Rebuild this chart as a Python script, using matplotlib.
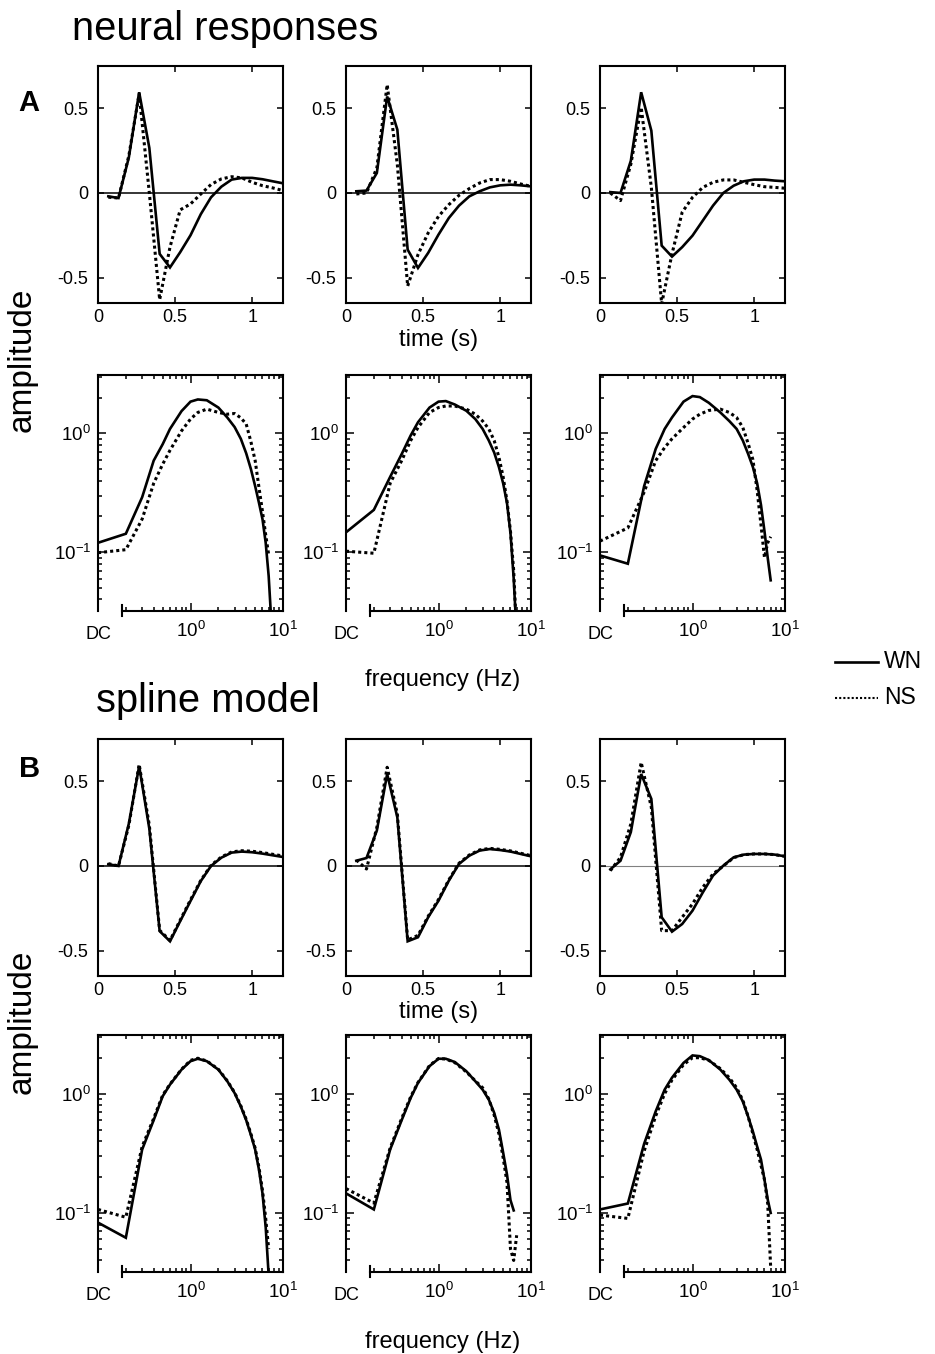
import numpy as np
import matplotlib
matplotlib.use("Agg")
import matplotlib.pyplot as plt
import matplotlib.transforms as mtrans
from matplotlib.ticker import FixedLocator, NullFormatter
from matplotlib.lines import Line2D

plt.rcParams['font.family'] = ['Liberation Sans', 'DejaVu Sans']
plt.rcParams['mathtext.fontset'] = 'custom'
plt.rcParams['mathtext.rm'] = 'Liberation Sans'
plt.rcParams['mathtext.it'] = 'Liberation Sans'

# ---------------- data ----------------
time_s = [0.067, 0.133, 0.2, 0.267, 0.333, 0.4, 0.467, 0.533, 0.6, 0.667,
          0.733, 0.8, 0.867, 0.933, 1.0, 1.067, 1.133, 1.2]

# neural responses (A), time domain
A1_wn_t = [-0.02, -0.03, 0.21, 0.595, 0.266, -0.36, -0.44, -0.35, -0.25, -0.125,
           -0.026, 0.037, 0.079, 0.089, 0.089, 0.081, 0.069, 0.057]
A1_ns_t = [-0.025, -0.03, 0.22, 0.585, 0.0, -0.63, -0.32, -0.1, -0.065, -0.006,
           0.05, 0.083, 0.096, 0.089, 0.063, 0.043, 0.03, 0.014]
A2_wn_t = [0.01, 0.014, 0.118, 0.57, 0.374, -0.335, -0.443, -0.354, -0.246, -0.148,
           -0.075, -0.02, 0.01, 0.033, 0.045, 0.049, 0.045, 0.039]
A2_ns_t = [-0.006, 0.0, 0.148, 0.64, 0.167, -0.55, -0.364, -0.236, -0.138, -0.069,
           -0.014, 0.026, 0.059, 0.079, 0.079, 0.069, 0.053, 0.039]
A3_wn_t = [0.005, 0.0, 0.19, 0.595, 0.368, -0.311, -0.376, -0.32, -0.252, -0.163,
           -0.075, 0.0, 0.043, 0.069, 0.079, 0.079, 0.073, 0.069]
A3_ns_t = [0.0, -0.045, 0.17, 0.506, 0.033, -0.655, -0.36, -0.114, -0.026, 0.033,
           0.063, 0.077, 0.077, 0.063, 0.049, 0.037, 0.033, 0.028]

# spline model (B), time domain
B1_wn_t = [0.01, 0.0, 0.25, 0.59, 0.22, -0.385, -0.445, -0.326, -0.207, -0.089,
           0.0, 0.049, 0.079, 0.085, 0.081, 0.073, 0.063, 0.053]
B1_ns_t = [0.014, 0.0, 0.24, 0.6, 0.24, -0.38, -0.44, -0.32, -0.2, -0.085,
           0.004, 0.053, 0.083, 0.09, 0.087, 0.079, 0.069, 0.059]
B2_wn_t = [0.031, 0.047, 0.209, 0.543, 0.287, -0.445, -0.421, -0.303, -0.205, -0.087,
           0.012, 0.061, 0.091, 0.1, 0.094, 0.085, 0.071, 0.057]
B2_ns_t = [0.035, -0.018, 0.228, 0.583, 0.307, -0.437, -0.41, -0.297, -0.198, -0.082,
           0.016, 0.065, 0.095, 0.104, 0.098, 0.089, 0.075, 0.061]
B3_wn_t = [-0.02, 0.031, 0.2, 0.543, 0.396, -0.303, -0.388, -0.343, -0.264, -0.156,
           -0.057, 0.002, 0.051, 0.067, 0.071, 0.071, 0.067, 0.057]
B3_ns_t = [-0.028, 0.051, 0.248, 0.612, 0.346, -0.382, -0.382, -0.303, -0.224, -0.126,
           -0.047, 0.0, 0.049, 0.067, 0.071, 0.071, 0.067, 0.057]

# frequency domain: DC value + values at freq_hz
freq_hz = [0.2, 0.3, 0.4, 0.5, 0.6, 0.8, 1.0, 1.2, 1.5, 2.0, 2.5, 3.0, 3.5,
           4.0, 4.5, 5.0, 5.5, 6.0, 6.5, 7.0, 7.5]
nan = float('nan')

A1_wn_dc, A1_wn_f = 0.12, [0.143, 0.29, 0.59, 0.81, 1.09, 1.54, 1.85, 1.93, 1.9, 1.65, 1.36,
                           1.13, 0.9, 0.68, 0.5, 0.36, 0.26, 0.19, 0.12, 0.063, 0.025]
A1_ns_dc, A1_ns_f = 0.099, [0.105, 0.19, 0.38, 0.55, 0.72, 1.05, 1.32, 1.5, 1.6, 1.5, 1.45,
                            1.47, 1.35, 1.2, 0.85, 0.59, 0.35, 0.22, 0.14, 0.095, nan]
A2_wn_dc, A2_wn_f = 0.147, [0.227, 0.43, 0.67, 0.96, 1.24, 1.65, 1.85, 1.87, 1.75, 1.55, 1.32,
                            1.09, 0.87, 0.69, 0.52, 0.38, 0.26, 0.145, 0.06, 0.02, nan]
A2_ns_dc, A2_ns_f = 0.102, [0.098, 0.38, 0.59, 0.87, 1.12, 1.5, 1.65, 1.7, 1.7, 1.6, 1.45,
                            1.27, 1.09, 0.87, 0.63, 0.43, 0.27, 0.15, 0.07, 0.02, nan]
A3_wn_dc, A3_wn_f = 0.094, [0.08, 0.36, 0.74, 1.09, 1.36, 1.85, 2.06, 2.02, 1.81, 1.5, 1.27,
                            1.09, 0.87, 0.67, 0.52, 0.38, 0.25, 0.15, 0.09, 0.058, nan]
A3_ns_dc, A3_ns_f = 0.124, [0.16, 0.32, 0.59, 0.76, 0.9, 1.12, 1.32, 1.45, 1.56, 1.6, 1.5,
                            1.36, 1.12, 0.82, 0.6, 0.33, 0.17, 0.09, 0.12, 0.135, nan]

B1_wn_dc, B1_wn_f = 0.083, [0.062, 0.34, 0.6, 0.95, 1.19, 1.59, 1.87, 1.96, 1.87, 1.59, 1.27,
                            1.01, 0.78, 0.6, 0.45, 0.34, 0.23, 0.146, 0.076, 0.03, nan]
B1_ns_dc, B1_ns_f = 0.107, [0.092, 0.36, 0.62, 0.97, 1.2, 1.6, 1.9, 1.98, 1.88, 1.6, 1.28,
                            1.02, 0.79, 0.61, 0.46, 0.35, 0.24, 0.155, 0.09, 0.05, nan]
B2_wn_dc, B2_wn_f = 0.146, [0.107, 0.34, 0.6, 0.92, 1.23, 1.7, 1.96, 1.96, 1.84, 1.54, 1.27,
                            1.08, 0.89, 0.69, 0.5, 0.32, 0.21, 0.128, 0.105, nan, nan]
B2_ns_dc, B2_ns_f = 0.16, [0.121, 0.35, 0.62, 0.94, 1.24, 1.72, 1.97, 1.95, 1.82, 1.52, 1.28,
                           1.12, 0.9, 0.66, 0.46, 0.29, 0.18, 0.05, 0.04, 0.065, nan]
B3_wn_dc, B3_wn_f = 0.107, [0.12, 0.38, 0.71, 1.08, 1.36, 1.81, 2.09, 2.06, 1.91, 1.59, 1.31,
                            1.08, 0.86, 0.64, 0.48, 0.36, 0.28, 0.19, 0.13, 0.1, nan]
B3_ns_dc, B3_ns_f = 0.096, [0.09, 0.33, 0.65, 1.0, 1.3, 1.75, 2.0, 2.0, 1.9, 1.62, 1.36,
                            1.12, 0.88, 0.64, 0.46, 0.34, 0.25, 0.19, 0.12, 0.035, nan]

time_ticks = [0, 0.5, 1]
time_ticklabels = ['0', '0.5', '1']
amp_ticks = [-0.5, 0, 0.5]
amp_ticklabels = ['-0.5', '0', '0.5']
freq_ticks = [1, 10]
freq_ticklabels = [r'$\mathregular{10^{0}}$', r'$\mathregular{10^{1}}$']
logamp_ticks = [0.1, 1]
logamp_ticklabels = [r'$\mathregular{10^{-1}}$', r'$\mathregular{10^{0}}$']

# ---------------- layout ----------------
W, H = 935, 1354
fig = plt.figure(figsize=(W / 100, H / 100), dpi=100)

DC_POS = 0.1        # where DC sits on the log axis (left edge)
AXIS_START = 0.18   # start of the broken frequency axis
LW_DATA = 1.9
SPINE_LW = 1.5
SOLID = dict(color='black', lw=LW_DATA, linestyle='-', solid_joinstyle='miter')
DOTTED = dict(color='black', lw=LW_DATA + 0.3, linestyle=(0, (1.0, 1.0)))


def px_axes(l, t, w, b):
    return fig.add_axes([l / W, 1 - b / H, w / W, (b - t) / H])


def style_common(ax, labelsize):
    for s in ax.spines.values():
        s.set_linewidth(SPINE_LW)
    ax.tick_params(which='both', direction='in', top=True, right=True,
                   labelsize=labelsize, width=1.1)


def time_panel(ax, wn, ns, zero_color='black', zero_lw=1.1):
    style_common(ax, 13)
    ax.axhline(0, color=zero_color, lw=zero_lw, zorder=1)
    ax.plot(time_s, wn, **SOLID, zorder=3)
    ax.plot(time_s, ns, **DOTTED, zorder=3)
    ax.set_xlim(0, 1.2)
    ax.set_ylim(-0.65, 0.75)
    ax.set_xticks(time_ticks)
    ax.set_xticklabels(time_ticklabels)
    ax.set_yticks(amp_ticks)
    ax.set_yticklabels(amp_ticklabels)
    ax.tick_params(which='major', length=4.5)
    ax.tick_params(axis='x', pad=4)
    ax.tick_params(axis='y', pad=7)


def freq_panel(ax, wn_dc, wn, ns_dc, ns):
    style_common(ax, 13.5)
    ax.set_xscale('log')
    ax.set_yscale('log')
    ax.plot([DC_POS] + freq_hz, [wn_dc] + wn, **SOLID, zorder=3)
    ax.plot([DC_POS] + freq_hz, [ns_dc] + ns, **DOTTED, zorder=3)
    ax.set_xlim(DC_POS, 10)
    ax.set_ylim(0.032, 3.1)
    ax.xaxis.set_major_locator(FixedLocator(freq_ticks))
    ax.xaxis.set_minor_locator(FixedLocator([0.2, 0.3, 0.4, 0.5, 0.6, 0.7, 0.8, 0.9,
                                             2, 3, 4, 5, 6, 7, 8, 9]))
    ax.xaxis.set_minor_formatter(NullFormatter())
    ax.set_xticklabels(freq_ticklabels)
    ax.yaxis.set_major_locator(FixedLocator(logamp_ticks))
    ax.yaxis.set_minor_locator(FixedLocator([0.04, 0.05, 0.06, 0.07, 0.08, 0.09,
                                             0.2, 0.3, 0.4, 0.5, 0.6, 0.7, 0.8, 0.9, 2, 3]))
    ax.yaxis.set_minor_formatter(NullFormatter())
    ax.set_yticklabels(logamp_ticklabels)
    ax.tick_params(which='major', length=6)
    ax.tick_params(which='minor', length=3)
    ax.tick_params(axis='x', pad=7)
    ax.tick_params(axis='y', pad=5)
    ax.spines['bottom'].set_bounds(AXIS_START, 10)
    trans = mtrans.blended_transform_factory(ax.transData, ax.transAxes)
    ax.plot([AXIS_START, AXIS_START], [-0.02, 0.025], color='black', lw=1.5,
            transform=trans, clip_on=False)
    ax.text(0.0, -0.10, 'DC', transform=ax.transAxes, ha='center', va='center',
            fontsize=13)


cols = [98, 346, 600]
CW = 185
rows = {'At': (66, 303), 'Af': (375, 611), 'Bt': (739, 976), 'Bf': (1035, 1272)}

time_A = [(A1_wn_t, A1_ns_t), (A2_wn_t, A2_ns_t), (A3_wn_t, A3_ns_t)]
time_B = [(B1_wn_t, B1_ns_t), (B2_wn_t, B2_ns_t), (B3_wn_t, B3_ns_t)]
freq_A = [(A1_wn_dc, A1_wn_f, A1_ns_dc, A1_ns_f), (A2_wn_dc, A2_wn_f, A2_ns_dc, A2_ns_f),
          (A3_wn_dc, A3_wn_f, A3_ns_dc, A3_ns_f)]
freq_B = [(B1_wn_dc, B1_wn_f, B1_ns_dc, B1_ns_f), (B2_wn_dc, B2_wn_f, B2_ns_dc, B2_ns_f),
          (B3_wn_dc, B3_wn_f, B3_ns_dc, B3_ns_f)]

for i, l in enumerate(cols):
    t, b = rows['At']
    time_panel(px_axes(l, t, CW, b), *time_A[i])
    t, b = rows['Af']
    freq_panel(px_axes(l, t, CW, b), *freq_A[i])
    t, b = rows['Bt']
    if i == 2:
        time_panel(px_axes(l, t, CW, b), *time_B[i], zero_color='#808080', zero_lw=0.8)
    else:
        time_panel(px_axes(l, t, CW, b), *time_B[i])
    t, b = rows['Bf']
    freq_panel(px_axes(l, t, CW, b), *freq_B[i])


def ftext(x, y, s, **kw):
    fig.text(x / W, 1 - y / H, s, **kw)


ftext(72, 40, 'neural responses', fontsize=28.7, ha='left', va='baseline')
ftext(96, 712, 'spline model', fontsize=28.7, ha='left', va='baseline')
ftext(29, 103, 'A', fontsize=21, fontweight='bold', ha='center', va='center')
ftext(30, 769, 'B', fontsize=21, fontweight='bold', ha='center', va='center')
ftext(22, 360, 'amplitude', fontsize=24, rotation=90, ha='center', va='center')
ftext(22, 1022, 'amplitude', fontsize=24, rotation=90, ha='center', va='center')
ftext(439, 340, 'time (s)', fontsize=17, ha='center', va='center')
ftext(439, 1012, 'time (s)', fontsize=17, ha='center', va='center')
ftext(443, 680, 'frequency (Hz)', fontsize=17, ha='center', va='center')
ftext(443, 1342, 'frequency (Hz)', fontsize=17, ha='center', va='center')

# legend
fig.add_artist(Line2D([835 / W, 878 / W], [1 - 662 / H, 1 - 662 / H],
                      transform=fig.transFigure, color='black', lw=1.9))
fig.add_artist(Line2D([835 / W, 878 / W], [1 - 698 / H, 1 - 698 / H],
                      transform=fig.transFigure, color='black', lw=1.5,
                      linestyle=(0, (1, 1))))
ftext(884, 662, 'WN', fontsize=16.5, ha='left', va='center')
ftext(884, 697, 'NS', fontsize=16.5, ha='left', va='center')

fig.savefig('out.png', dpi=100)
